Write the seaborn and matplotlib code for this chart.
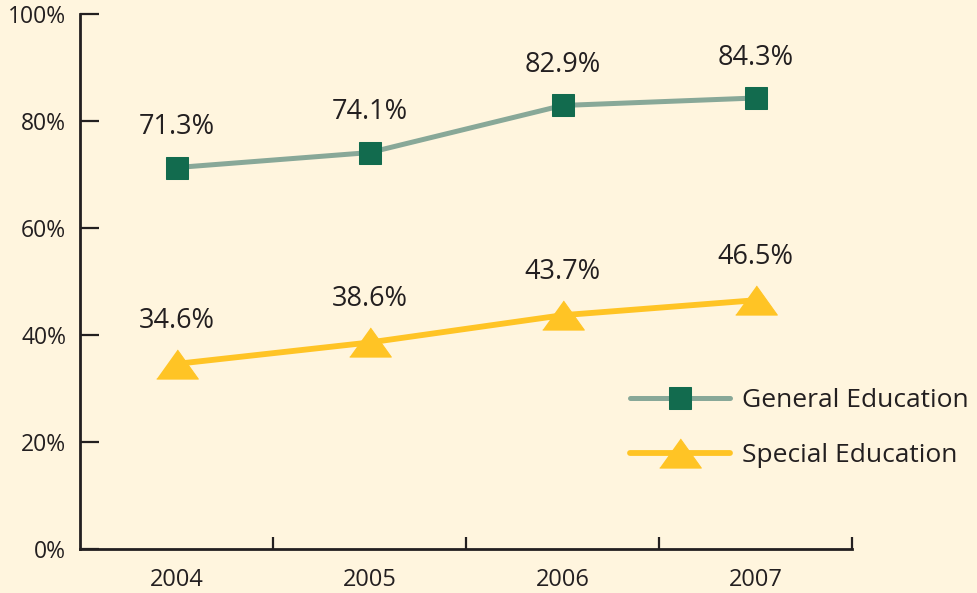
import matplotlib
matplotlib.use("Agg")
import matplotlib.pyplot as plt
import seaborn as sns
from matplotlib.ticker import FixedLocator, FuncFormatter

years = ["2004", "2005", "2006", "2007"]
general_ed = [71.3, 74.1, 82.9, 84.3]
special_ed = [34.6, 38.6, 43.7, 46.5]

bg = "#FFF5DE"
ink = "#231F20"

sns.set_style("white")
plt.rcParams['font.family'] = ['Open Sans', 'DejaVu Sans']
plt.rcParams['text.color'] = ink

fig = plt.figure(figsize=(9.77, 5.93), dpi=100, facecolor=bg)
ax = fig.add_axes([80 / 977, 1 - 549 / 593, 772 / 977, 535 / 593])
ax.set_facecolor(bg)

tri = [(-1, -0.7), (1, -0.7), (0, 0.7)]

sns.lineplot(x=years, y=general_ed, ax=ax, color="#88A898", lw=3.6,
             marker="s", markersize=16, markerfacecolor="#126B4E",
             markeredgecolor="#126B4E", label="General Education", sort=False)
sns.lineplot(x=years, y=special_ed, ax=ax, color="#FFC425", lw=4.2,
             marker=tri, markersize=30, markerfacecolor="#FFC425",
             markeredgecolor="#FFC425", label="Special Education", sort=False)

# value labels above the markers
for i, v in enumerate(general_ed):
    ax.annotate(f"{v}%", (i, v), xytext=(0, 29), textcoords="offset points",
                ha="center", va="center", fontsize=19.5, color=ink)
for i, v in enumerate(special_ed):
    ax.annotate(f"{v}%", (i, v), xytext=(0, 31), textcoords="offset points",
                ha="center", va="center", fontsize=19.5, color=ink)

ax.set_xlim(-0.5, 3.5)
ax.set_ylim(0, 100)
ax.set_yticks([0, 20, 40, 60, 80, 100])
ax.yaxis.set_major_formatter(FuncFormatter(lambda v, p: f"{v:.0f}%"))
ax.xaxis.set_minor_locator(FixedLocator([0.5, 1.5, 2.5, 3.5]))

ax.tick_params(axis="y", direction="in", length=14, width=1.6, pad=10,
               labelsize=16.5, colors=ink, left=True)
ax.tick_params(axis="x", which="major", length=0, pad=14, labelsize=17, colors=ink)
ax.tick_params(axis="x", which="minor", direction="in", length=9, width=1.6,
               colors=ink, bottom=True)

for s in ["top", "right"]:
    ax.spines[s].set_visible(False)
for s in ["left", "bottom"]:
    ax.spines[s].set_color(ink)
    ax.spines[s].set_linewidth(2)

ax.set_xlabel("")
ax.set_ylabel("")

leg = ax.legend(loc="center left", bbox_to_anchor=(630 / 977, 1 - 428 / 593),
                bbox_transform=fig.transFigure, frameon=False, fontsize=19,
                handlelength=3.8, handletextpad=0.45, labelspacing=1.15,
                borderpad=0, borderaxespad=0)
for t in leg.get_texts():
    t.set_color(ink)

fig.savefig("out.png", dpi=100, facecolor=bg)
